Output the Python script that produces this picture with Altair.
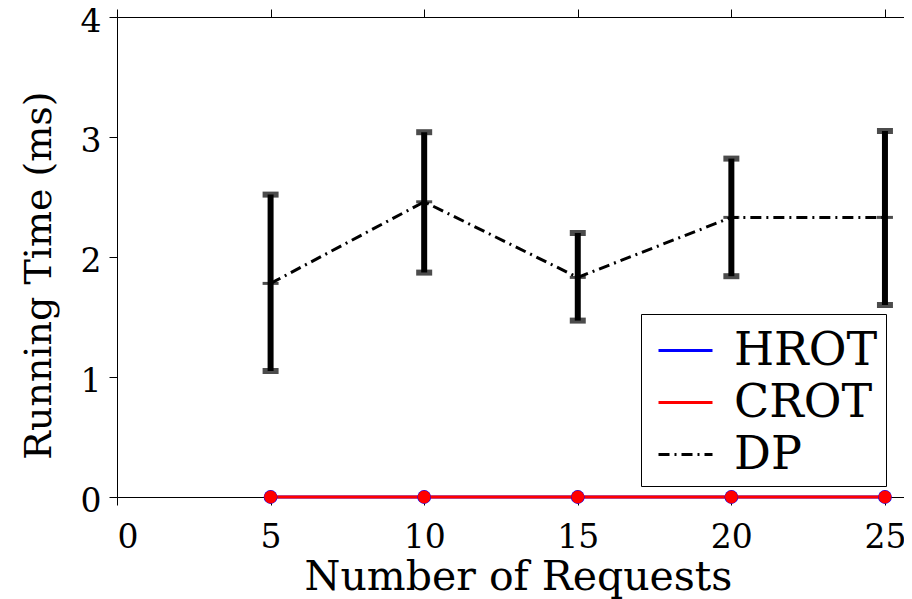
import altair as alt
import pandas as pd

# ---- data ----
requests = [5, 10, 15, 20, 25]
hrot = [0, 0, 0, 0, 0]
crot = [0, 0, 0, 0, 0]
dp_mean = [1.78, 2.46, 1.83, 2.33, 2.33]
dp_low = [1.05, 1.87, 1.47, 1.84, 1.60]
dp_high = [2.52, 3.04, 2.20, 2.82, 3.05]
series = ["HROT", "CROT", "DP"]
colors = ["#0000ff", "#ff0000", "#000000"]
dashes = [[1, 0], [1, 0], [11, 5, 2, 5]]
x_ticks = [0, 5, 10, 15, 20, 25]
y_ticks = [0, 1, 2, 3, 4]

long = pd.DataFrame({
    "n": requests * 3,
    "t": hrot + crot + dp_mean,
    "s": ["HROT"] * 5 + ["CROT"] * 5 + ["DP"] * 5,
})
dp = pd.DataFrame({"n": requests, "mean": dp_mean, "low": dp_low, "high": dp_high})
hr = pd.DataFrame({"n": requests, "t": hrot})
cr = pd.DataFrame({"n": requests, "t": crot})

FONT = "DejaVu Serif"
xscale = alt.Scale(domain=[0, 25.62], nice=False, zero=False)
yscale = alt.Scale(domain=[0, 4], nice=False)

xaxis_bottom = alt.Axis(values=x_ticks, title="Number of Requests", orient="bottom",
                        labelBaseline="alphabetic", labelPadding=42,
                        titleBaseline="alphabetic", titleY=92, titleX=401,
                        titleAnchor="start", titleAlign="center", titleFontSize=41)
xaxis_top = alt.Axis(values=x_ticks, title=None, orient="top", labels=False)
yaxis = alt.Axis(values=y_ticks, title="Running Time (ms)", labelPadding=8,
                 labelBaseline="middle", labelOffset=4,
                 titleBaseline="alphabetic", titleAngle=-90, titleX=-67, titleY=258,
                 titleAlign="center", titleAnchor="start", titleFontSize=38)

legend = alt.Legend(title=None)

lines = alt.Chart(long).mark_line(strokeWidth=3).encode(
    x=alt.X("n:Q", scale=xscale, axis=xaxis_bottom),
    y=alt.Y("t:Q", scale=yscale, axis=yaxis),
    color=alt.Color("s:N", scale=alt.Scale(domain=series, range=colors), legend=legend),
    strokeDash=alt.StrokeDash("s:N", scale=alt.Scale(domain=series, range=dashes), legend=legend),
)

bars = alt.Chart(dp).mark_rule(strokeWidth=6, color="black").encode(
    x=alt.X("n:Q", scale=xscale, axis=xaxis_top),
    y=alt.Y("low:Q", scale=yscale, axis=yaxis),
    y2="high:Q",
)
cap_low = alt.Chart(dp).mark_tick(orient="horizontal", size=16, thickness=6, color="black").encode(
    x=alt.X("n:Q", scale=xscale, axis=None),
    y=alt.Y("low:Q", scale=yscale, axis=yaxis),
)
cap_high = alt.Chart(dp).mark_tick(orient="horizontal", size=16, thickness=6, color="black").encode(
    x=alt.X("n:Q", scale=xscale, axis=None),
    y=alt.Y("high:Q", scale=yscale, axis=yaxis),
)
mean_mark = alt.Chart(dp).mark_tick(orient="horizontal", size=16, thickness=3, color="black").encode(
    x=alt.X("n:Q", scale=xscale, axis=None),
    y=alt.Y("mean:Q", scale=yscale, axis=yaxis),
)
hpts = alt.Chart(hr).mark_circle(size=190, color="#0000ff", opacity=1).encode(
    x=alt.X("n:Q", scale=xscale, axis=None),
    y=alt.Y("t:Q", scale=yscale, axis=yaxis),
)
cpts = alt.Chart(cr).mark_circle(size=165, color="#ff0000", opacity=1).encode(
    x=alt.X("n:Q", scale=xscale, axis=None),
    y=alt.Y("t:Q", scale=yscale, axis=yaxis),
)

chart = alt.layer(lines, bars, cap_low, cap_high, mean_mark, hpts, cpts).resolve_axis(
    x="independent", y="shared"
).properties(
    width=787, height=480,
    padding={"left": 109, "top": 9, "right": 0, "bottom": 102},
    autosize=alt.AutoSizeParams(type="none"),
).configure_view(stroke=None).configure_axis(
    domainColor="black", domainWidth=1, tickColor="black", tickWidth=1, tickSize=8,
    labelFont=FONT, labelFontSize=33, labelColor="black",
    titleFont=FONT, titleFontWeight="normal", titleColor="black",
    grid=False,
).configure_legend(
    orient="none", legendX=524, legendY=297,
    strokeColor="black", strokeWidth=1, fillColor="white", padding=8,
    labelFont=FONT, labelFontSize=46, labelColor="black", labelOffset=20,
    symbolType="stroke", symbolSize=2916, symbolStrokeWidth=3, rowPadding=0,
    symbolOffset=8,
)

chart.save("out.html", embed_options={"renderer": "svg", "actions": False})
